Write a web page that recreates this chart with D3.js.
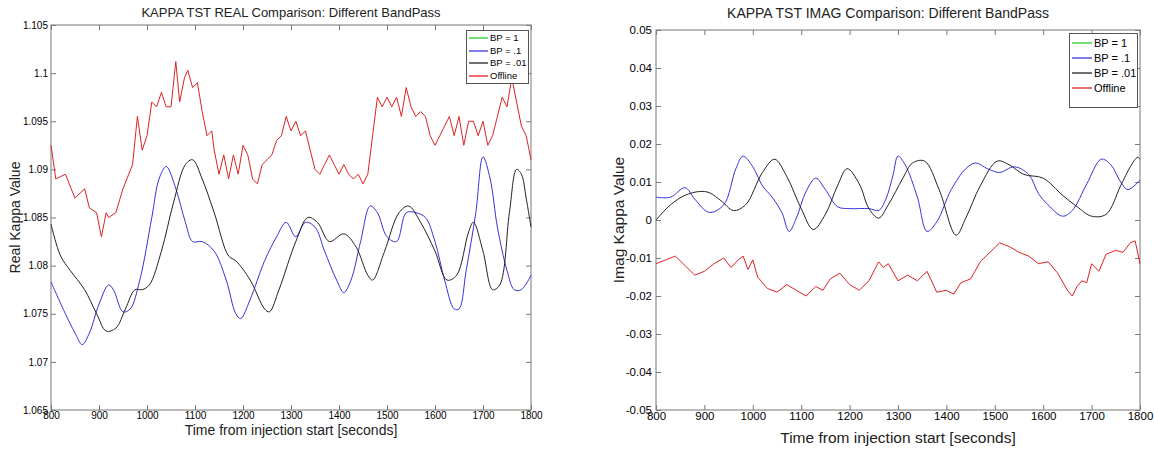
<!DOCTYPE html>
<meta charset="utf-8">
<html>
<head>
<style>
  body { margin: 0; background: #fff; }
  svg { font-family: "Liberation Sans", Arial, sans-serif; }
  .axis text { fill: #000; }
  .axis line, .axis path { stroke: #7a7a7a; }
</style>
</head>
<script src="https://d3js.org/d3.v7.min.js"></script>
<body>
<div id="vis"></div>
<script>
  // time axis (seconds from injection start)
  var timeTicks = [800, 900, 1000, 1100, 1200, 1300, 1400, 1500, 1600, 1700, 1800];
  var seriesNames = ["BP = 1", "BP = .1", "BP = .01", "Offline"];
  var seriesColors = ["#22cc22", "#3333dd", "#222222", "#dd2222"];

  // ---- REAL panel ----
  var realTicks = [1.065, 1.07, 1.075, 1.08, 1.085, 1.09, 1.095, 1.1, 1.105];
  var realBlueT = [800, 830, 850, 865, 880, 900, 920, 930, 950, 965, 985, 1010, 1025, 1040, 1060, 1080, 1095, 1115, 1140, 1165, 1185, 1195, 1215, 1245, 1270, 1290, 1310, 1330, 1350, 1370, 1395, 1410, 1425, 1445, 1465, 1480, 1500, 1520, 1540, 1560, 1580, 1600, 1620, 1640, 1650, 1665, 1685, 1700, 1715, 1730, 1750, 1765, 1780, 1800];
  var realBlue = [1.0783, 1.075, 1.073, 1.0718, 1.073, 1.076, 1.078, 1.0775, 1.0752, 1.0755, 1.0785, 1.085, 1.089, 1.0903, 1.088, 1.0845, 1.0825, 1.0825, 1.0815, 1.0785, 1.075, 1.0745, 1.0765, 1.0805, 1.083, 1.0845, 1.083, 1.0845, 1.084, 1.0815, 1.0785, 1.0772, 1.0785, 1.0825, 1.0862, 1.0855, 1.083, 1.0825, 1.0855, 1.0855, 1.085, 1.0825, 1.0785, 1.0755, 1.0755, 1.0795, 1.0855, 1.0913, 1.089, 1.084, 1.0795, 1.0775, 1.0775, 1.079];
  var realBlackT = [800, 820, 840, 870, 895, 915, 935, 955, 975, 990, 1005, 1030, 1055, 1080, 1095, 1115, 1140, 1170, 1185, 1215, 1245, 1255, 1275, 1310, 1335, 1355, 1380, 1410, 1435, 1460, 1470, 1495, 1525, 1545, 1570, 1600, 1625, 1645, 1670, 1680, 1700, 1720, 1735, 1755, 1770, 1780, 1790, 1800];
  var realBlack = [1.0843, 1.081, 1.0795, 1.0775, 1.075, 1.0732, 1.0735, 1.0755, 1.0775, 1.0775, 1.078, 1.0815, 1.0865, 1.0905, 1.091, 1.089, 1.0855, 1.081, 1.0805, 1.0785, 1.0755, 1.0752, 1.0775, 1.0825, 1.085, 1.0845, 1.0825, 1.0833, 1.082, 1.079, 1.0785, 1.0815, 1.0855, 1.0862, 1.0845, 1.0815, 1.0785, 1.079, 1.0835, 1.0845, 1.0815, 1.0775, 1.078, 1.0855, 1.09, 1.0895, 1.087, 1.084];
  var realRedT = [800, 810, 830, 850, 870, 880, 895, 905, 915, 920, 935, 950, 970, 980, 990, 1000, 1010, 1020, 1030, 1040, 1050, 1060, 1068, 1078, 1085, 1095, 1105, 1115, 1125, 1135, 1140, 1150, 1160, 1170, 1180, 1190, 1200, 1210, 1220, 1230, 1240, 1250, 1260, 1270, 1280, 1290, 1300, 1310, 1320, 1330, 1340, 1350, 1360, 1370, 1380, 1390, 1400, 1410, 1420, 1430, 1440, 1450, 1460, 1470, 1480, 1490, 1500, 1510, 1520, 1530, 1540, 1550, 1560, 1570, 1580, 1590, 1600, 1610, 1620, 1630, 1640, 1650, 1660, 1670, 1680, 1690, 1700, 1710, 1720, 1730, 1740, 1750, 1760, 1770, 1780, 1790, 1800];
  var realRed = [1.0925, 1.089, 1.0895, 1.087, 1.088, 1.086, 1.0855, 1.083, 1.0855, 1.085, 1.0855, 1.088, 1.0905, 1.0955, 1.092, 1.0935, 1.097, 1.0965, 1.098, 1.0965, 1.0965, 1.1012, 1.097, 1.0995, 1.1003, 1.0985, 1.099, 1.096, 1.0935, 1.094, 1.092, 1.0895, 1.0915, 1.089, 1.0915, 1.0895, 1.0925, 1.0915, 1.089, 1.0885, 1.0905, 1.091, 1.0915, 1.093, 1.0935, 1.0955, 1.094, 1.095, 1.0935, 1.094, 1.092, 1.09, 1.0895, 1.0905, 1.0915, 1.0905, 1.0895, 1.0905, 1.0895, 1.089, 1.0895, 1.0885, 1.0895, 1.0935, 1.0975, 1.0965, 1.0975, 1.0965, 1.0975, 1.0955, 1.0985, 1.0965, 1.0955, 1.096, 1.0955, 1.0935, 1.0925, 1.0935, 1.0945, 1.0955, 1.0935, 1.0955, 1.0925, 1.095, 1.095, 1.0935, 1.095, 1.0925, 1.0935, 1.0955, 1.0975, 1.0965, 1.0995, 1.097, 1.0945, 1.0935, 1.091];

  // ---- IMAG panel ----
  var imagTicks = [-0.05, -0.04, -0.03, -0.02, -0.01, 0, 0.01, 0.02, 0.03, 0.04, 0.05];
  var imagBlueT = [800, 830, 860, 880, 910, 940, 965, 980, 1000, 1020, 1040, 1060, 1075, 1090, 1110, 1130, 1150, 1175, 1200, 1240, 1260, 1275, 1290, 1300, 1315, 1340, 1360, 1380, 1410, 1440, 1460, 1485, 1510, 1540, 1570, 1590, 1610, 1640, 1660, 1690, 1720, 1740, 1760, 1775, 1800];
  var imagBlue = [0.006, 0.006, 0.0085, 0.0055, 0.002, 0.004, 0.0135, 0.0168, 0.014, 0.009, 0.006, 0.002, -0.003, 0.0005, 0.0075, 0.011, 0.008, 0.0035, 0.003, 0.003, 0.0025, 0.0055, 0.012, 0.0168, 0.0145, 0.006, -0.003, -0.0005, 0.008, 0.0135, 0.015, 0.0135, 0.0125, 0.014, 0.012, 0.007, 0.004, 0.001, 0.0025, 0.0095, 0.016, 0.0145, 0.01, 0.008, 0.0105];
  var imagBlackT = [800, 830, 860, 890, 910, 935, 960, 985, 1020, 1045, 1070, 1100, 1125, 1150, 1175, 1195, 1220, 1240, 1260, 1280, 1310, 1330, 1355, 1385, 1420, 1440, 1470, 1505, 1530, 1560, 1600, 1640, 1670, 1700, 1730, 1760, 1780, 1795, 1800];
  var imagBlack = [0.0, 0.004, 0.0065, 0.0075, 0.0072, 0.005, 0.0025, 0.004, 0.0125, 0.016, 0.0115, 0.003, -0.0025, 0.0015, 0.009, 0.0135, 0.0095, 0.003, 0.0005, 0.004, 0.011, 0.015, 0.0155, 0.008, -0.004, 0.0005, 0.009, 0.0155, 0.0145, 0.012, 0.011, 0.0065, 0.0035, 0.001, 0.0015, 0.009, 0.014, 0.0165, 0.016];
  var imagRedT = [800, 820, 840, 860, 880, 900, 920, 940, 955, 970, 980, 990, 1000, 1010, 1030, 1050, 1070, 1090, 1110, 1130, 1145, 1160, 1180, 1200, 1220, 1240, 1260, 1270, 1280, 1300, 1320, 1340, 1360, 1380, 1400, 1415, 1430, 1450, 1470, 1490, 1510, 1530, 1550, 1570, 1590, 1610, 1630, 1650, 1660, 1670, 1680, 1690, 1700, 1715, 1730, 1750, 1765, 1780, 1790, 1800];
  var imagRed = [-0.0115, -0.0105, -0.0095, -0.012, -0.0145, -0.0135, -0.0115, -0.01, -0.0125, -0.0105, -0.0095, -0.013, -0.0105, -0.015, -0.018, -0.019, -0.017, -0.0185, -0.02, -0.0175, -0.0185, -0.0155, -0.014, -0.017, -0.0185, -0.016, -0.011, -0.0125, -0.0115, -0.016, -0.0145, -0.016, -0.0135, -0.019, -0.0185, -0.0195, -0.0165, -0.0155, -0.011, -0.0085, -0.006, -0.007, -0.0085, -0.0095, -0.0115, -0.011, -0.014, -0.0185, -0.02, -0.0175, -0.016, -0.0165, -0.0115, -0.0135, -0.009, -0.008, -0.0085, -0.006, -0.0055, -0.0115];

  function zip(t, v) { return t.map(function(d, i) { return {t: d, v: v[i]}; }); }

  var svg = d3.select("#vis").append("svg")
    .attr("width", 1154)
    .attr("height", 451);

  function panel(p) {
    var x = d3.scaleLinear().domain([800, 1800]).range([p.left, p.right]);
    var y = d3.scaleLinear().domain(p.domain).range([p.bottom, p.top]);
    var g = svg.append("g");

    // frame
    g.append("rect")
      .attr("x", p.left).attr("y", p.top)
      .attr("width", p.right - p.left).attr("height", p.bottom - p.top)
      .attr("fill", "#fff").attr("stroke", "#777");

    var tk = 5;
    // bottom axis, ticks pointing in (matlab style)
    var xb = g.append("g").attr("class", "axis")
      .attr("transform", "translate(0," + p.bottom + ")")
      .call(d3.axisBottom(x).tickValues(timeTicks).tickSize(-tk).tickPadding(p.xPad).tickFormat(d3.format("d")));
    xb.selectAll("text").style("font-size", p.tickFont + "px");
    xb.select(".domain").remove();
    var xt = g.append("g").attr("class", "axis")
      .attr("transform", "translate(0," + p.top + ")")
      .call(d3.axisTop(x).tickValues(timeTicks).tickSize(-tk).tickFormat(""));
    xt.select(".domain").remove();
    var yl = g.append("g").attr("class", "axis")
      .attr("transform", "translate(" + p.left + ",0)")
      .call(d3.axisLeft(y).tickValues(p.ticks).tickSize(-tk).tickPadding(p.yPad).tickFormat(function(d) { return String(+d.toFixed(3)); }));
    yl.selectAll("text").style("font-size", p.tickFont + "px");
    yl.select(".domain").remove();
    var yr = g.append("g").attr("class", "axis")
      .attr("transform", "translate(" + p.right + ",0)")
      .call(d3.axisRight(y).tickValues(p.ticks).tickSize(-tk).tickFormat(""));
    yr.select(".domain").remove();

    var line = d3.line()
      .x(function(d) { return x(d.t); })
      .y(function(d) { return y(d.v); });

    p.series.forEach(function(s) {
      g.append("path")
        .datum(zip(s.t, s.v))
        .attr("fill", "none")
        .attr("stroke", seriesColors[s.idx])
        .attr("stroke-width", 1)
        .attr("d", line.curve(s.smooth ? d3.curveCatmullRom.alpha(0.5) : d3.curveLinear));
    });

    g.append("text")
      .attr("x", p.titleX).attr("y", p.titleY)
      .attr("text-anchor", "middle")
      .style("font-size", p.titleFont + "px").attr("fill", "#222")
      .text(p.title);
    g.append("text")
      .attr("x", (p.left + p.right) / 2).attr("y", p.xLabelY)
      .attr("text-anchor", "middle")
      .style("font-size", p.labelFont + "px").attr("fill", "#222")
      .text("Time from injection start [seconds]");
    g.append("text")
      .attr("transform", "translate(" + p.yLabelX + "," + ((p.top + p.bottom) / 2) + ") rotate(-90)")
      .attr("text-anchor", "middle")
      .style("font-size", p.labelFont + "px").attr("fill", "#222")
      .text(p.yLabel);

    // legend
    var L = p.legend;
    var lg = g.append("g").attr("transform", "translate(" + L.x + "," + L.y + ")");
    lg.append("rect")
      .attr("x", 0.5).attr("y", 0.5)
      .attr("width", L.w).attr("height", L.h)
      .attr("fill", "#fff").attr("stroke", "#555");
    seriesNames.forEach(function(name, i) {
      var yy = Math.round(L.pad + i * L.row);
      lg.append("line")
        .attr("x1", 3).attr("x2", L.lineW)
        .attr("y1", yy).attr("y2", yy)
        .attr("stroke", seriesColors[i])
        .attr("stroke-width", 1.3);
      lg.append("text")
        .attr("x", L.lineW + 2).attr("y", yy).attr("dy", "0.35em")
        .style("font-size", L.font + "px")
        .text(name);
    });
  }

  panel({
    left: 51, right: 531, top: 25, bottom: 410,
    domain: [1.065, 1.105], ticks: realTicks,
    title: "KAPPA TST REAL Comparison: Different BandPass",
    titleX: 291, titleY: 17,
    yLabel: "Real Kappa Value",
    titleFont: 13, labelFont: 14, tickFont: 10, xPad: 2, yPad: 3,
    xLabelY: 435, yLabelX: 20,
    legend: {x: 466, y: 30, w: 62, h: 53, pad: 8, row: 12.5, lineW: 22, font: 9.5},
    series: [
      {idx: 1, t: realBlueT, v: realBlue, smooth: true},
      {idx: 2, t: realBlackT, v: realBlack, smooth: true},
      {idx: 3, t: realRedT, v: realRed, smooth: false}
    ]
  });

  panel({
    left: 656, right: 1140, top: 30, bottom: 410,
    domain: [-0.05, 0.05], ticks: imagTicks,
    title: "KAPPA TST IMAG Comparison: Different BandPass",
    titleX: 888, titleY: 18,
    yLabel: "Imag Kappa Value",
    titleFont: 14, labelFont: 15.5, tickFont: 11.5, xPad: 2, yPad: 4,
    xLabelY: 443, yLabelX: 624,
    legend: {x: 1069, y: 33, w: 68, h: 74, pad: 10, row: 15, lineW: 23, font: 11},
    series: [
      {idx: 1, t: imagBlueT, v: imagBlue, smooth: true},
      {idx: 2, t: imagBlackT, v: imagBlack, smooth: true},
      {idx: 3, t: imagRedT, v: imagRed, smooth: false}
    ]
  });
</script>
</body>
</html>
